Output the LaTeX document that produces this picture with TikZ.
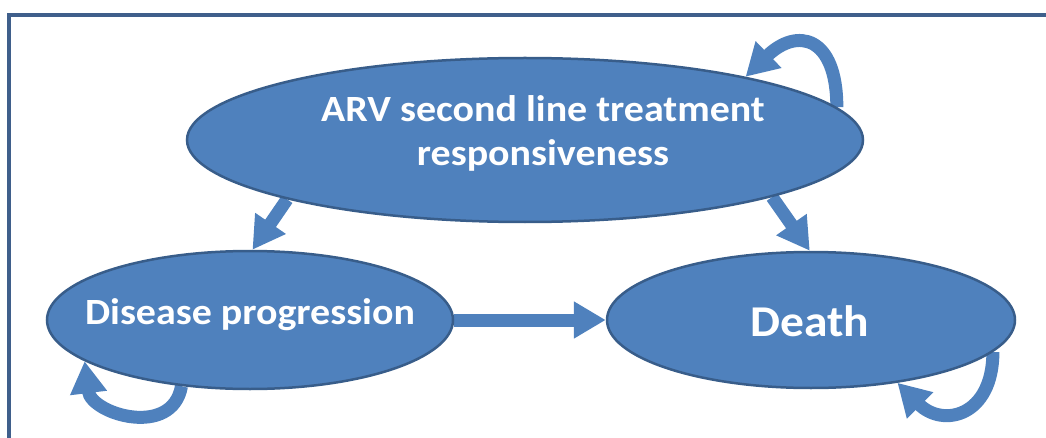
\documentclass[tikz,border=0pt]{standalone}
\usepackage{fontspec}
\setmainfont{Carlito}[FakeStretch=1.08]
\usetikzlibrary{shapes.geometric,arrows.meta,backgrounds}

\definecolor{stateblue}{HTML}{4F81BD}
\definecolor{stateedge}{HTML}{385D8A}
\definecolor{framecol}{HTML}{3F5F8B}

\tikzset{
  state/.style={ellipse, draw=stateedge, line width=2.5pt, fill=stateblue, inner sep=0pt},
  lbl/.style={text=white, align=center, inner sep=0pt},
  flow/.style={draw=stateblue, line width=13pt, -{Triangle[width=35pt,length=32pt]}},
}

\begin{document}
\begin{tikzpicture}[x=1pt,y=1pt]
  \useasboundingbox (0,0) rectangle (1046,437);
  \draw[framecol, line width=3.3pt] (9,-5) -- (9,422) -- (1051,422);

  % states
  \node[state, minimum width=676pt, minimum height=164pt] (arv) at (525,297) {};
  \node[state, minimum width=406pt, minimum height=138pt] (dis) at (250,117) {};
  \node[state, minimum width=408pt, minimum height=136pt] (dth) at (811,117) {};

  \node[lbl, anchor=base, font=\bfseries\fontsize{37}{44}\selectfont] (arvtxt) at (543,272) {ARV second line treatment\\responsiveness};
  \node[lbl, anchor=base, font=\bfseries\fontsize{37}{44}\selectfont] (distxt) at (250,113) {Disease progression};
  \node[lbl, anchor=base, font=\bfseries\fontsize{44}{52}\selectfont] (dthtxt) at (810,101) {Death};

  % transitions
  \begin{scope}[on background layer]
    \draw[flow] (arv.194) -- (dis.88);
    \draw[flow] (arv.347) -- (dth.91);
    \draw[flow] (dis.east) -- (dth.west);
    \draw[flow] (arv.6) to[out=90, in=44, looseness=1.9] (arv.16);
    \draw[flow] (dis.224) to[out=260, in=-83, looseness=1.36] (dis.194);
    \draw[flow] (dth.350) to[out=-90, in=-45, looseness=1.64] (dth.324);
  \end{scope}
\end{tikzpicture}
\end{document}
